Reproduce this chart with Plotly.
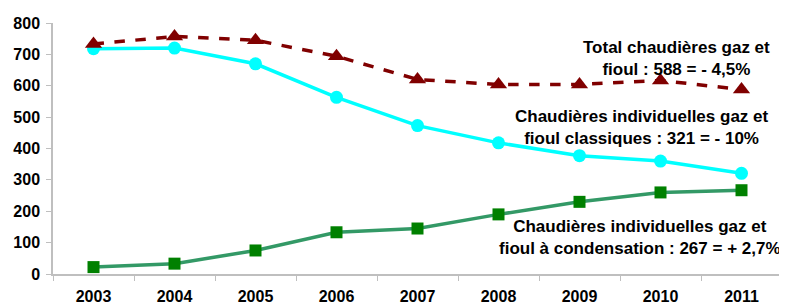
import plotly.graph_objects as go

years = ["2003", "2004", "2005", "2006", "2007", "2008", "2009", "2010", "2011"]
total = [733, 757, 745, 694, 620, 604, 604, 617, 588]
classiques = [718, 720, 670, 563, 473, 418, 377, 360, 321]
condensation = [22, 33, 75, 133, 145, 190, 230, 260, 267]
y_ticks = [0, 100, 200, 300, 400, 500, 600, 700, 800]

ann_total = "Total chaudières gaz et<br>fioul : 588 = - 4,5%"
ann_class = "Chaudières individuelles gaz et<br>fioul classiques : 321 = - 10%"
ann_cond = "Chaudières individuelles gaz et<br>fioul à condensation : 267 = + 2,7%"

fig = go.Figure()
fig.add_trace(go.Scatter(
    x=years, y=condensation, mode="lines+markers",
    line=dict(color="#339966", width=3.5),
    marker=dict(symbol="square", size=12, color="#008000"),
))
fig.add_trace(go.Scatter(
    x=years, y=classiques, mode="lines+markers",
    line=dict(color="#00FFFF", width=3.5),
    marker=dict(symbol="circle", size=13, color="#00FFFF"),
))
fig.add_trace(go.Scatter(
    x=years, y=total, mode="lines+markers",
    line=dict(color="#800000", width=3.5, dash="dash"),
    marker=dict(symbol="triangle-up", size=15, color="#800000"),
))

tfont = dict(family="Liberation Sans, Arial, sans-serif", size=16, color="black", weight="bold")
afont = dict(family="Liberation Sans, Arial, sans-serif", size=17, color="black")
# page body has an 8px default margin, so the figure is drawn 8px right/down
fig.update_layout(
    width=779, height=298,
    margin=dict(l=45, r=5, t=15, b=32, autoexpand=False),
    paper_bgcolor="white", plot_bgcolor="white",
    showlegend=False,
    xaxis=dict(
        type="category", range=[-0.5, 8.5], automargin=False,
        showline=True, linecolor="#BFBFBF", linewidth=1.5,
        ticks="outside", tickson="boundaries", ticklen=5, tickcolor="#BFBFBF",
        showgrid=False, tickfont=tfont, ticklabelstandoff=7,
    ),
    yaxis=dict(
        range=[0, 800], tickvals=y_ticks, automargin=False,
        showline=True, linecolor="#BFBFBF", linewidth=1.5,
        ticks="outside", ticklen=5, tickcolor="#BFBFBF",
        showgrid=False, zeroline=False, tickfont=tfont, ticklabelstandoff=3,
    ),
    annotations=[
        dict(text="<b>" + ann_total + "</b>", xref="paper", yref="paper", x=0.855, y=0.857,
             showarrow=False, align="center", font=afont, xanchor="center", yanchor="middle"),
        dict(text="<b>" + ann_class + "</b>", xref="paper", yref="paper", x=0.808, y=0.582,
             showarrow=False, align="center", font=afont, xanchor="center", yanchor="middle"),
        dict(text="<b>" + ann_cond + "</b>", xref="paper", yref="paper", x=0.805, y=0.145,
             showarrow=False, align="center", font=afont, xanchor="center", yanchor="middle"),
    ],
)
fig.write_html("out.html")
